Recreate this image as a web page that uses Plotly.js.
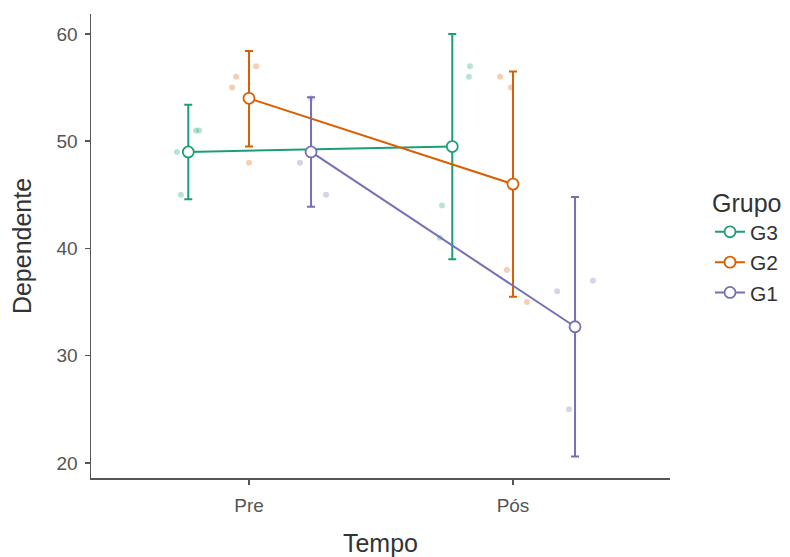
<!DOCTYPE html>
<html>
<head>
<meta charset="utf-8">
<script src="https://cdn.plot.ly/plotly-3.0.1.min.js"></script>
<style>html,body{margin:0;padding:0;background:#fff;}#chart{width:790px;height:557px;}</style>
</head>
<body>
<div id="chart"></div>
<script>
// Data
var groups = ["G3", "G2", "G1"];
var colors = ["#1B9E77", "#D95F02", "#7570B3"];
var tempoLabels = ["Pre", "Pós"];
var tempoPos = [1, 2];
var dodge = [-0.23, 0, 0.235];

// Means per group (Pre, Pós)
var meanG3 = [49.0, 49.5];
var meanG2 = [54.0, 46.0];
var meanG1 = [49.0, 32.7];
// Error bar limits per group (Pre, Pós)
var lowG3 = [44.6, 39.0];
var highG3 = [53.4, 60.0];
var lowG2 = [49.5, 35.5];
var highG2 = [58.4, 56.5];
var lowG1 = [43.9, 20.6];
var highG1 = [54.1, 44.8];

// Raw (jittered) observations
var rawXG3 = [0.799, 0.811, 0.727, 0.742, 1.837, 1.833, 1.731, 1.723];
var rawYG3 = [51, 51, 49, 45, 57, 56, 44, 41];
var rawXG2 = [0.951, 0.936, 1.027, 1.000, 1.951, 1.992, 1.977, 2.053];
var rawYG2 = [56, 55, 57, 48, 56, 55, 38, 35];
var rawXG1 = [1.193, 1.292, 1.235, 2.167, 2.303, 2.212];
var rawYG1 = [48, 45, 54, 36, 37, 25];

var means = [meanG3, meanG2, meanG1];
var lows = [lowG3, lowG2, lowG1];
var highs = [highG3, highG2, highG1];
var rawX = [rawXG3, rawXG2, rawXG1];
var rawY = [rawYG3, rawYG2, rawYG1];

var traces = [];
for (var g = 0; g < groups.length; g++) {
  traces.push({
    type: "scatter", mode: "markers",
    x: rawX[g], y: rawY[g],
    marker: {color: colors[g], size: 6, opacity: 0.3},
    showlegend: false, hoverinfo: "skip"
  });
}
for (var g = 0; g < groups.length; g++) {
  var xs = tempoPos.map(function (p) { return p + dodge[g]; });
  var m = means[g];
  traces.push({
    type: "scatter", mode: "lines+markers", name: groups[g],
    x: xs, y: m,
    line: {color: colors[g], width: 2},
    marker: {color: "#ffffff", size: 11, line: {color: colors[g], width: 1.8}},
    error_y: {
      type: "data", symmetric: false,
      array: highs[g].map(function (h, i) { return h - m[i]; }),
      arrayminus: lows[g].map(function (l, i) { return m[i] - l; }),
      color: colors[g], thickness: 2, width: 4
    }
  });
}

var layout = {
  width: 790, height: 557,
  margin: {l: 91, r: 0, t: 14, b: 79},
  paper_bgcolor: "#ffffff", plot_bgcolor: "#ffffff",
  font: {family: "Liberation Sans, Arial, sans-serif", color: "#333333"},
  xaxis: {
    domain: [0, 579 / 699],
    range: [0.4015, 2.5947], tickvals: tempoPos, ticktext: tempoLabels,
    showgrid: false, zeroline: false, showline: true, linecolor: "#555555", linewidth: 1.5,
    ticks: "outside", ticklen: 5, tickcolor: "#555555", tickwidth: 1.5,
    ticklabelstandoff: 5,
    tickfont: {size: 19, color: "#555555"}, automargin: false,
    title: {text: "Tempo", font: {size: 25, color: "#333333"}}
  },
  yaxis: {
    range: [18.6, 61.86], tickvals: [20, 30, 40, 50, 60],
    showgrid: false, zeroline: false, showline: true, linecolor: "#555555", linewidth: 1.5,
    ticks: "outside", ticklen: 5, tickcolor: "#555555", tickwidth: 1.5,
    ticklabelstandoff: 3,
    tickfont: {size: 19, color: "#555555"}, automargin: false,
    title: {text: "Dependente", font: {size: 25, color: "#333333"}}
  },
  legend: {
    x: 619 / 699, xanchor: "left", y: 0.644, yanchor: "top",
    title: {text: "Grupo", font: {size: 25, color: "#333333"}},
    font: {size: 21, color: "#333333"},
    tracegroupgap: 0, itemwidth: 30
  },
  showlegend: true
};

Plotly.newPlot("chart", traces, layout, {displayModeBar: false, staticPlot: true});
</script>
</body>
</html>
